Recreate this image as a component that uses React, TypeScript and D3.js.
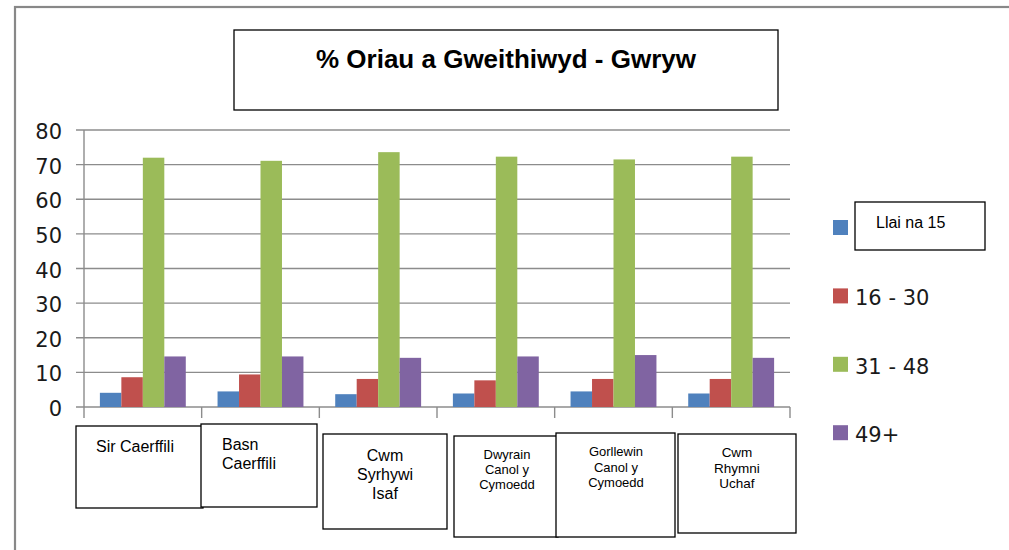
import * as d3 from 'd3';

// categories as they are printed in the label boxes (one entry per line)
const categoryLines: string[][] = [
  ['Sir Caerffili'],
  ['Basn', 'Caerffili'],
  ['Cwm', 'Syrhywi', 'Isaf'],
  ['Dwyrain', 'Canol y', 'Cymoedd'],
  ['Gorllewin', 'Canol y', 'Cymoedd'],
  ['Cwm', 'Rhymni', 'Uchaf'],
];
const categories = categoryLines.map((l) => l.join(' '));

const seriesNames = ['Llai na 15', '16 - 30', '31 - 48', '49+'];
const seriesColors = ['#4f81bd', '#c0504d', '#9bbb59', '#8064a2'];

const llaiNa15 = [4.1, 4.5, 3.7, 3.9, 4.5, 3.9];
const oriau16to30 = [8.6, 9.4, 8.1, 7.7, 8.1, 8.1];
const oriau31to48 = [72.0, 71.1, 73.6, 72.3, 71.5, 72.3];
const oriau49plus = [14.6, 14.6, 14.2, 14.6, 15.0, 14.2];

const yTicks = [0, 10, 20, 30, 40, 50, 60, 70, 80];

const title = '% Oriau a Gweithiwyd - Gwryw';

// hand-placed text boxes covering the category axis, as in the original
const labelBoxes = [
  { x: 76, y: 426, w: 127, h: 82, cx: 135, base: 452, size: 16, lh: 19, anchor: 'middle' },
  { x: 201, y: 424, w: 116, h: 83, cx: 222, base: 450, size: 16, lh: 19, anchor: 'start' },
  { x: 323, y: 434, w: 124, h: 95, cx: 385, base: 461, size: 16, lh: 19, anchor: 'middle' },
  { x: 454, y: 436, w: 104, h: 101, cx: 507, base: 459, size: 13, lh: 15, anchor: 'middle' },
  { x: 556, y: 433, w: 119, h: 104, cx: 616, base: 456, size: 13, lh: 15.5, anchor: 'middle' },
  { x: 678, y: 434, w: 118, h: 99, cx: 737, base: 457, size: 13.5, lh: 15.7, anchor: 'middle' },
];

const W = 1009;
const H = 550;
const plot = { left: 84, right: 790, top: 130, bottom: 407 };

const axisFont = '"DejaVu Sans", sans-serif';
const boxFont = '"Liberation Sans", Arial, sans-serif';

export default function App() {
  const values = [llaiNa15, oriau16to30, oriau31to48, oriau49plus];

  const x = d3.scaleBand<string>().domain(categories).range([plot.left, plot.right]).padding(0);
  const bw = x.bandwidth();
  const xs = d3
    .scaleBand<string>()
    .domain(seriesNames)
    .range([bw * 0.135, bw * 0.865])
    .padding(0);
  const y = d3.scaleLinear().domain([0, 80]).range([plot.bottom, plot.top]);

  const tickXs = [...categories.map((c) => x(c)!), plot.right];

  return (
    <svg
      width={W}
      height={H}
      style={{ position: 'absolute', left: 0, top: 0, background: '#fff' }}
    >
      {/* outer frame */}
      <rect x={15} y={7} width={W} height={H} fill="#fff" stroke="#888" strokeWidth={2.2} />

      {/* title box */}
      <rect x={234} y={30} width={544} height={80} fill="#fff" stroke="#000" strokeWidth={1.3} />
      <text
        x={506}
        y={68}
        textAnchor="middle"
        fontFamily={boxFont}
        fontWeight="bold"
        fontSize={26}
        fill="#000"
      >
        {title}
      </text>

      {/* gridlines + y ticks */}
      {yTicks.map((t) => (
        <g key={t}>
          <line
            x1={plot.left - 8}
            x2={plot.right}
            y1={y(t)}
            y2={y(t)}
            stroke="#8c8c8c"
            strokeWidth={1.4}
          />
          <text
            x={62}
            y={y(t) + 9}
            textAnchor="end"
            fontFamily={axisFont}
            fontSize={21}
            fill="#1a1a1a"
          >
            {t}
          </text>
        </g>
      ))}
      <line x1={plot.left} x2={plot.left} y1={plot.top} y2={plot.bottom} stroke="#8c8c8c" strokeWidth={1.4} />

      {/* category ticks */}
      {tickXs.map((tx, i) => (
        <line key={i} x1={tx} x2={tx} y1={plot.bottom} y2={plot.bottom + 11} stroke="#8c8c8c" strokeWidth={1.4} />
      ))}

      {/* bars */}
      {categories.map((c, ci) => (
        <g key={c} transform={`translate(${x(c)},0)`}>
          {seriesNames.map((s, si) => (
            <rect
              key={s}
              x={xs(s)}
              y={y(values[si][ci])}
              width={xs.bandwidth()}
              height={y(0) - y(values[si][ci])}
              fill={seriesColors[si]}
            />
          ))}
        </g>
      ))}

      {/* legend */}
      {seriesNames.map((s, i) => {
        const ly = 220 + i * 68.4;
        return (
          <g key={s}>
            <rect x={833} y={ly} width={15} height={15} fill={seriesColors[i]} />
            {i === 0 ? (
              <g>
                <rect x={855} y={202} width={130} height={48} fill="#fff" stroke="#000" strokeWidth={1.3} />
                <text x={876} y={228} fontFamily={boxFont} fontSize={16} fill="#000">
                  {s}
                </text>
              </g>
            ) : (
              <text x={855} y={ly + 17} fontFamily={axisFont} fontSize={21} fill="#1a1a1a">
                {s}
              </text>
            )}
          </g>
        );
      })}

      {/* category label boxes */}
      {labelBoxes.map((b, i) => (
        <g key={i}>
          <rect x={b.x} y={b.y} width={b.w} height={b.h} fill="#fff" stroke="#000" strokeWidth={1.3} />
          {categoryLines[i].map((line, li) => (
            <text
              key={li}
              x={b.cx}
              y={b.base + li * b.lh}
              textAnchor={b.anchor}
              fontFamily={boxFont}
              fontSize={b.size}
              fill="#000"
            >
              {line}
            </text>
          ))}
        </g>
      ))}
    </svg>
  );
}
